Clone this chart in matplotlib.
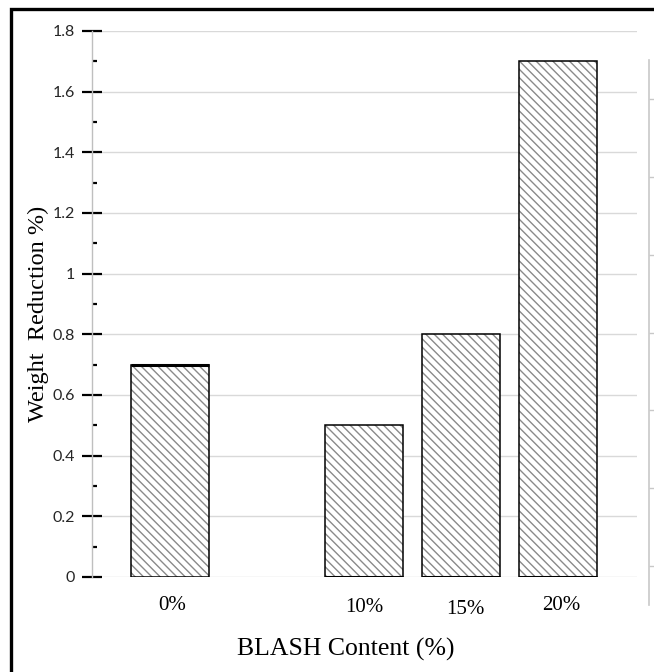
import matplotlib
matplotlib.use('Agg')
import matplotlib.pyplot as plt
from matplotlib.patches import Rectangle
from matplotlib.ticker import MultipleLocator

# data
positions = [0, 2, 3, 4]          # slot 1 (5%) is empty in the original
bar_labels = ['0%', '10%', '15%', '20%']
values = [0.7, 0.5, 0.8, 1.7]
yticks = [0, 0.2, 0.4, 0.6, 0.8, 1.0, 1.2, 1.4, 1.6, 1.8]
ytick_labels = ['0', '0.2', '0.4', '0.6', '0.8', '1', '1.2', '1.4', '1.6', '1.8']

plt.rcParams['hatch.linewidth'] = 1.0

W, H = 654, 672
fig = plt.figure(figsize=(W / 100, H / 100), dpi=100)


def box(x0, y0, x1, y1):
    # pixel box (top-left origin) -> figure fraction rect
    return [x0 / W, 1 - y1 / H, (x1 - x0) / W, (y1 - y0) / H]


ax = fig.add_axes(box(92, 31, 637, 577))
ax.set_xlim(-0.8, 4.81)
ax.set_ylim(0, 1.8)

# hatch with grey lines, then black outline on top
ax.bar(positions, values, width=0.8, color='white', edgecolor='#8a8a8a',
       hatch='\\\\\\\\', linewidth=0, zorder=2)
ax.bar(positions, values, width=0.8, fill=False, edgecolor='black',
       linewidth=1.1, zorder=3)
ax.hlines(values[0], positions[0] - 0.4, positions[0] + 0.4, color='black',
          linewidth=2.2, zorder=4)
ax.hlines([0, 0, 0], [p - 0.4 for p in positions[1:]],
          [p + 0.4 for p in positions[1:]], color='black', linewidth=2.2,
          zorder=4)

ax.set_yticks(yticks)
ax.set_yticklabels(ytick_labels, fontfamily='Lato', fontsize=11.5,
                   color='#262626')
ax.yaxis.set_minor_locator(MultipleLocator(0.1))
ax.tick_params(axis='y', which='major', direction='inout', length=14,
               width=1.6, color='black', pad=5.5)
ax.tick_params(axis='y', which='minor', direction='in', length=3.6,
               width=1.6, color='black')
ax.yaxis.grid(True, color='#d9d9d9', linewidth=1.0, zorder=0)
ax.set_axisbelow(True)

ax.set_xticks([])
for s in ['top', 'right', 'bottom']:
    ax.spines[s].set_visible(False)
ax.spines['left'].set_color('#bfbfbf')
ax.spines['left'].set_linewidth(1.0)

# category labels under bars (slightly uneven, as in the original)
label_dy = [28, 31, 33, 28]
label_dx = [0.03, 0.0, 0.04, 0.035]
for p, lab, dy, dx in zip(positions, bar_labels, label_dy, label_dx):
    ax.annotate(lab, xy=(p + dx, 0), xycoords='data',
                xytext=(0, -dy * 0.72), textcoords='offset points',
                ha='center', va='center', fontfamily='Liberation Serif',
                fontsize=15)

fig.text(346 / W, 1 - 649 / H, 'BLASH Content (%)', ha='center',
         va='center', fontfamily='Liberation Serif', fontsize=18.5)
fig.text(38 / W, 1 - 314 / H, 'Weight  Reduction %)', rotation=90,
         ha='center', va='center', fontfamily='Liberation Serif',
         fontsize=17.5)

# leftover secondary axis on the right
ax2 = fig.add_axes(box(649, 60, 660, 605))
ax2.set_xlim(0, 1)
ax2.set_ylim(0, 7)
ax2.set_yticks([0.5, 1.5, 2.5, 3.5, 4.5, 5.5, 6.5])
ax2.set_yticklabels([])
ax2.set_xticks([])
ax2.patch.set_visible(False)
for s in ['top', 'right', 'bottom']:
    ax2.spines[s].set_visible(False)
ax2.spines['left'].set_color('#c8c8c8')
ax2.spines['left'].set_linewidth(1.2)
ax2.tick_params(axis='y', direction='in', length=3.5, width=1.0,
                color='#c8c8c8')

# outer frame
fig.patches.append(Rectangle((10.5 / W, -0.05), 1.0, 1 - 8.5 / H + 0.05,
                             transform=fig.transFigure, fill=False,
                             edgecolor='black', linewidth=2.4))

fig.savefig('out.png', dpi=100)
